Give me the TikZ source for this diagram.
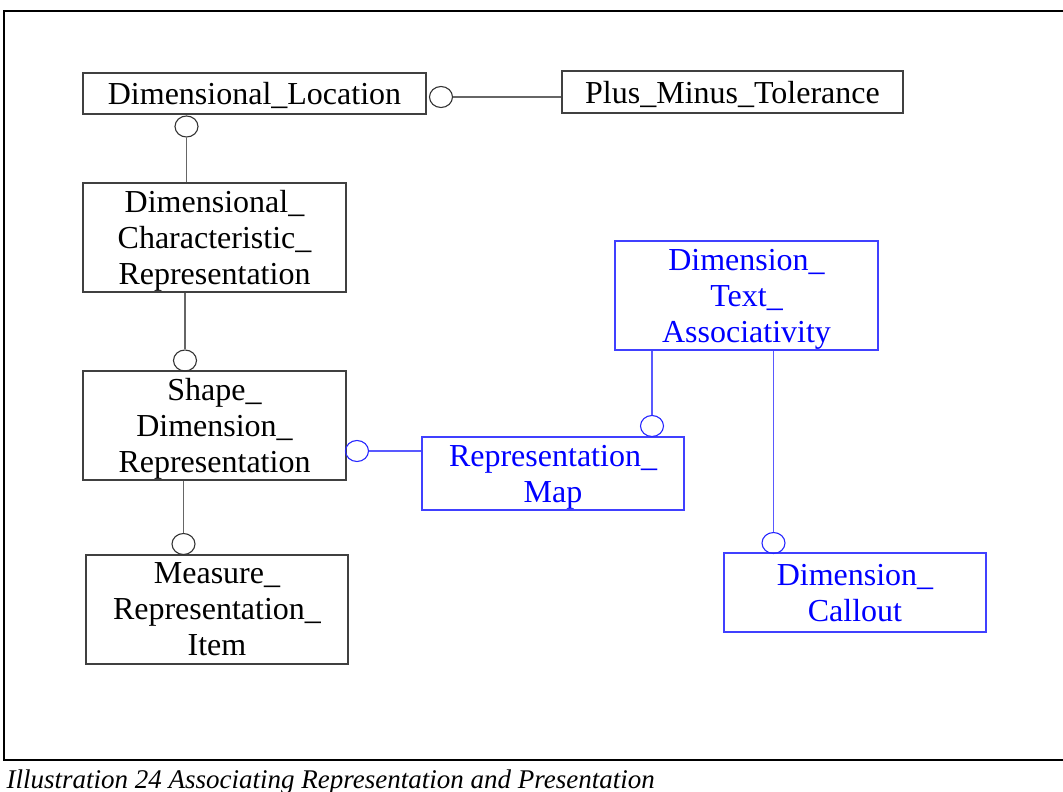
\documentclass[tikz,border=0pt]{standalone}
\usepackage{fontspec}
\setmainfont{Liberation Serif}
\usepackage{tikz}
\usetikzlibrary{positioning, shapes.geometric}
\tikzset{
    ent/.style={rectangle, draw=black!75, line width=1.3pt, inner sep=0pt, text depth=0pt, align=center, font=\fontsize{32}{36}\selectfont},
    pent/.style={rectangle, draw=blue!75, line width=1.3pt, inner sep=0pt, text depth=0pt, align=center, text=blue, font=\fontsize{32}{36}\selectfont},
    ring/.style={ellipse, draw=black!80, line width=1.1pt, inner sep=0pt, minimum width=23pt, minimum height=21pt},
    pring/.style={ellipse, draw=blue!85, line width=1.1pt, inner sep=0pt, minimum width=23pt, minimum height=21pt},
    link/.style={draw=black!60, line width=1.2pt},
    plink/.style={draw=blue!65, line width=1.2pt},
}

\begin{document}
\begin{tikzpicture}[x=1pt, y=-1pt]
            \useasboundingbox (0,0) rectangle (1063,792);
            \draw[line width=2pt] (1063,11) -- (4,11) -- (4,760) -- (1063,760);
            \node [anchor=base west, font=\fontsize{27}{30}\selectfont\itshape] (cap) at (3,788) {Illustration 24 Associating Representation and Presentation};
            % entities
            \node [ent, minimum width=343pt, minimum height=41pt] (dl) at (254.5,93.5) {Dimensional\_Location};
            \node [ent, minimum width=341pt, minimum height=42pt] (pmt) at (732.5,92) {Plus\_Minus\_Tolerance};
            \node [ent, minimum width=263pt, minimum height=109pt] (dcr) at (214.5,237.5) {Dimensional\_\\Characteristic\_\\Representation};
            \node [ent, minimum width=263pt, minimum height=109pt] (sdr) at (214.5,425.5) {Shape\_\\Dimension\_\\Representation};
            \node [ent, minimum width=262pt, minimum height=109pt] (mri) at (217,609.5) {Measure\_\\Representation\_\\Item};
            \node [pent, minimum width=262pt, minimum height=73pt] (rm) at (553,473.5) {Representation\_\\Map};
            \node [pent, minimum width=263pt, minimum height=109pt] (dta) at (746.5,295.5) {Dimension\_\\Text\_\\Associativity};
            \node [pent, minimum width=262pt, minimum height=79pt] (dc) at (855,592.5) {Dimension\_\\Callout};
            % rings
            \node [ring] (o0) at (441,97) {};
            \node [ring] (o1) at (186.5,126.5) {};
            \node [ring] (o2) at (185,360.5) {};
            \node [ring] (o3) at (183.5,544) {};
            \node [pring] (o4) at (357,451) {};
            \node [pring] (o5) at (652,426) {};
            \node [pring] (o6) at (773.5,543) {};
            % links
            \draw[link] (o0) -- (o0 -| pmt.west);
            \draw[link] (o1) -- (o1 |- dcr.north);
            \draw[link] (dcr.south -| o2) -- (o2);
            \draw[link] (sdr.south -| o3) -- (o3);
            \draw[plink] (o4) -- (o4 -| rm.west);
            \draw[plink] (dta.south -| o5) -- (o5);
            \draw[plink] (dta.south -| o6) -- (o6);
        \end{tikzpicture}
\end{document}
